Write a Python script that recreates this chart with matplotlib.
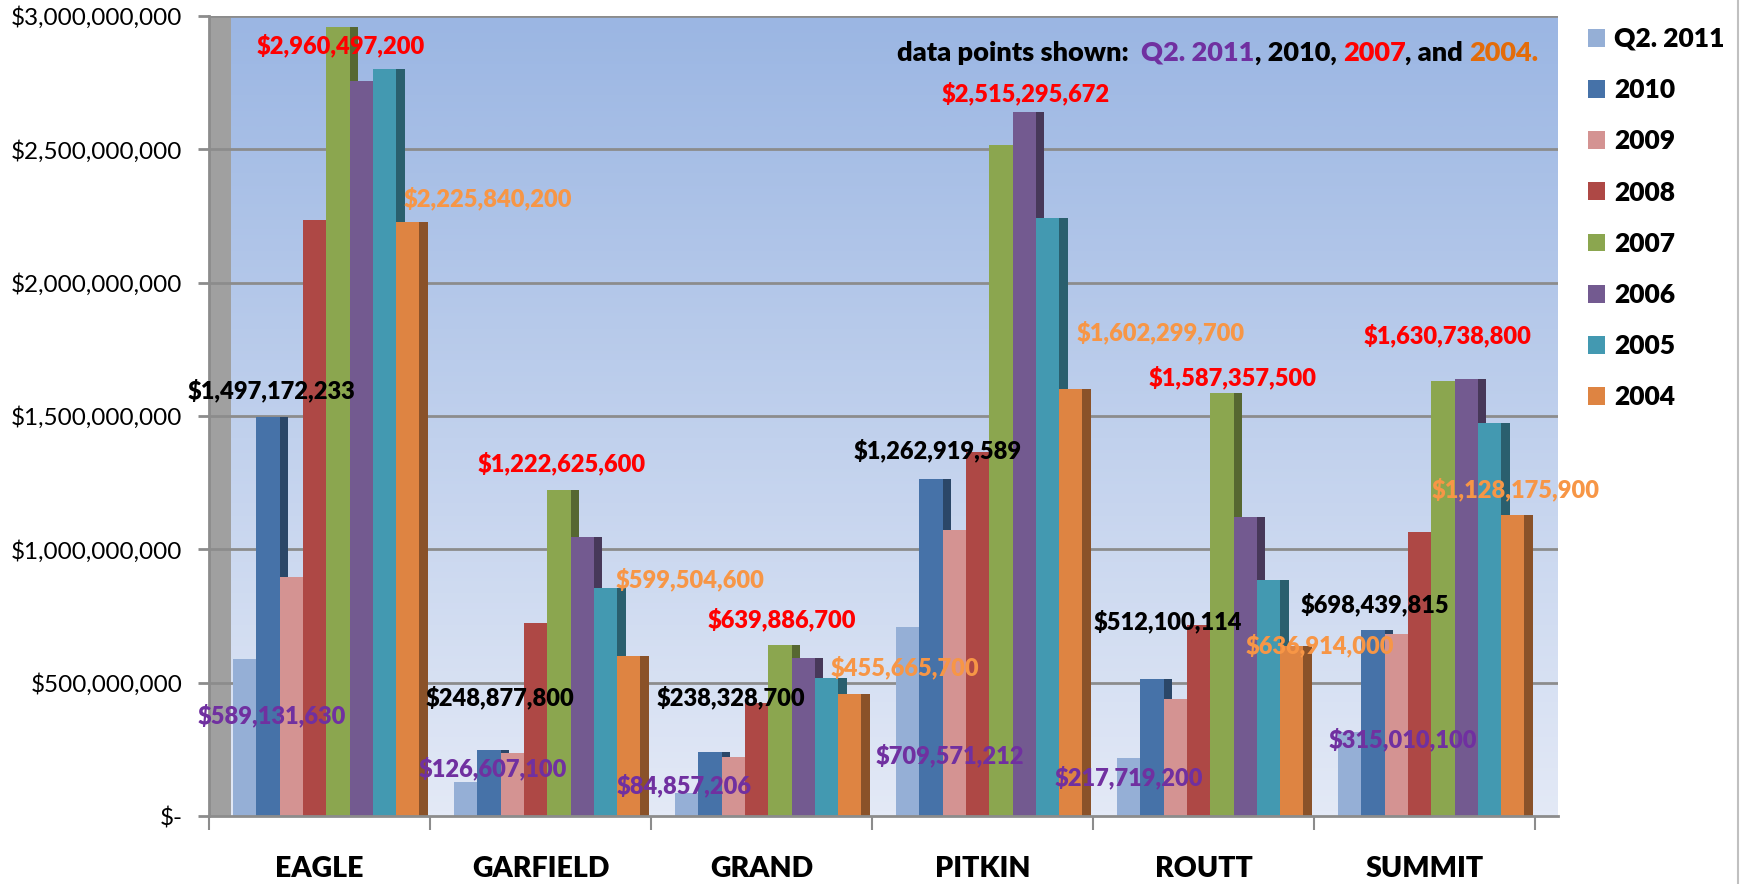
import numpy as np
import matplotlib
matplotlib.use("Agg")
import matplotlib.pyplot as plt
from matplotlib.patches import Patch
from matplotlib.lines import Line2D
from matplotlib.colors import LinearSegmentedColormap, to_rgb
from matplotlib.ticker import FuncFormatter, FixedLocator

plt.rcParams['font.family'] = ['Lato', 'DejaVu Sans']

# ---------------- data ----------------
counties = ["EAGLE", "GARFIELD", "GRAND", "PITKIN", "ROUTT", "SUMMIT"]
series_names = ["Q2. 2011", "2010", "2009", "2008", "2007", "2006", "2005", "2004"]

q2_2011 = [589131630, 126607100, 84857206, 709571212, 217719200, 315010100]
y2010 = [1497172233, 248877800, 238328700, 1262919589, 512100114, 698439815]
y2009 = [897e6, 235e6, 222e6, 1071e6, 439e6, 682e6]
y2008 = [2236e6, 722e6, 423e6, 1366e6, 715e6, 1066e6]
y2007 = [2960497200, 1222625600, 639886700, 2515295672, 1587357500, 1630738800]
y2006 = [2756e6, 1045e6, 591e6, 2639e6, 1120e6, 1639e6]
y2005 = [2801e6, 854e6, 519e6, 2243e6, 885e6, 1475e6]
y2004 = [2225840200, 599504600, 455665700, 1602299700, 636914000, 1128175900]

yticks = [0, 500e6, 1000e6, 1500e6, 2000e6, 2500e6, 3000e6]

# ---------------- style ----------------
all_series = [q2_2011, y2010, y2009, y2008, y2007, y2006, y2005, y2004]
face_colors = ["#95AFD6", "#4672A8", "#D49392", "#AE4845",
               "#8BA64F", "#735A90", "#4399B1", "#DE8442"]
label_colors = {0: "#7030A0", 1: "#000000", 4: "#FF0000", 7: "#F79646"}

# label centre positions in figure pixels (manually placed in the original)
label_px = {
    0: [(272, 715), (493, 768), (684, 785), (950, 755), (1129, 777), (1403, 739)],
    1: [(271, 390), (500, 697), (731, 697), (938, 450), (1168, 621), (1375, 604)],
    4: [(341, 45), (562, 463), (782, 619), (1026, 93), (1233, 377), (1448, 335)],
    7: [(488, 198), (690, 579), (905, 667), (1161, 332), (1320, 645), (1516, 489)],
}

W, H = 1742, 884
fig = plt.figure(figsize=(W / 100, H / 100), dpi=100)
fig.patch.set_facecolor("white")

x0_px, x1_px, y0_px, y1_px = 209, 1558, 816, 16
cat_px = 221.0
ax = fig.add_axes([x0_px / W, (H - y0_px) / H, (x1_px - x0_px) / W, (y0_px - y1_px) / H])
xmax = (x1_px - x0_px) / cat_px
wall_w = 22 / cat_px

# background gradient (back wall): darker at top
grad = np.linspace(0, 1, 256).reshape(-1, 1)
cmap = LinearSegmentedColormap.from_list("bg", ["#9BB6E3", "#E3E9F6"])
ax.imshow(grad, extent=[wall_w, xmax, 0, 3e9], aspect="auto", cmap=cmap,
          origin="upper", zorder=0, interpolation="bilinear")
ax.axvspan(0, wall_w, color="#A0A0A0", zorder=0.5, lw=0)

for v in yticks[1:]:
    ax.axhline(v, color="#8C8C8C", lw=2, zorder=1)

ax.set_xlim(0, xmax)
ax.set_ylim(0, 3e9)

# bars with a darker side face
bw = 23.3 / cat_px
off0 = 24 / cat_px
side_w = 8.5 / cat_px
base = np.arange(len(counties))
for i, (vals, col) in enumerate(zip(all_series, face_colors)):
    x = base + off0 + i * bw
    dark = tuple(c * 0.62 for c in to_rgb(col))
    ax.bar(x + bw, vals, width=side_w, align="edge", color=dark, lw=0, zorder=2 + 2 * i)
    ax.bar(x, vals, width=bw, align="edge", color=col, lw=0, zorder=3 + 2 * i)

# axes styling
for s in ["top", "right"]:
    ax.spines[s].set_visible(False)
for s in ["left", "bottom"]:
    ax.spines[s].set_color("#8C8C8C")
    ax.spines[s].set_linewidth(2)
    ax.spines[s].set_zorder(30)

ax.yaxis.set_major_locator(FixedLocator(yticks))
ax.yaxis.set_major_formatter(FuncFormatter(lambda v, p: "$-" if v == 0 else f"${v:,.0f}"))
ax.tick_params(axis="y", length=8, width=2, color="#8C8C8C", pad=11,
               labelsize=17.5, labelcolor="black")

ax.set_xticks(np.arange(0, len(counties) + 1))
ax.set_xticklabels([])
ax.tick_params(axis="x", which="major", length=10, width=1.5, color="#8C8C8C")
ax.set_xticks(base + 0.5, minor=True)
ax.set_xticklabels(counties, minor=True, fontweight="heavy", fontsize=20.5)
ax.tick_params(axis="x", which="minor", length=0, pad=29)

# data labels
for si, pts in label_px.items():
    vals = all_series[si]
    for (px, py), v in zip(pts, vals):
        fig.text(px / W, 1 - py / H, f"${v:,.0f}", ha="center", va="center",
                 fontsize=17, fontweight="heavy", color=label_colors[si], zorder=50)

# multi-colored note
parts = [("data points shown:  ", "black"), ("Q2. 2011", "#7030A0"), (", 2010, ", "black"),
         ("2007", "#FF0000"), (", and ", "black"), ("2004.", "#E36C09")]
prev = fig.text(897 / W, 1 - 53 / H, parts[0][0], ha="left", va="center",
                fontsize=19.5, fontweight="heavy", color=parts[0][1])
for txt, col in parts[1:]:
    prev = ax.annotate(txt, xy=(1, 0), xycoords=prev, ha="left", va="bottom",
                       fontsize=19.5, fontweight="heavy", color=col, annotation_clip=False)

# legend
handles = [Patch(facecolor=c, edgecolor="none") for c in face_colors]
fig.legend(handles, series_names, loc="upper left", bbox_to_anchor=(1588 / W, 1 - 27 / H),
           frameon=False, prop={"weight": "heavy", "size": 19}, handlelength=0.66,
           handleheight=0.66, handletextpad=0.32, labelspacing=1.03, borderpad=0,
           borderaxespad=0)

fig.add_artist(Line2D([1738 / W, 1738 / W], [0, 1], color="#C0C0C0", lw=1.5))

fig.savefig("out.png", dpi=100, facecolor="white")
